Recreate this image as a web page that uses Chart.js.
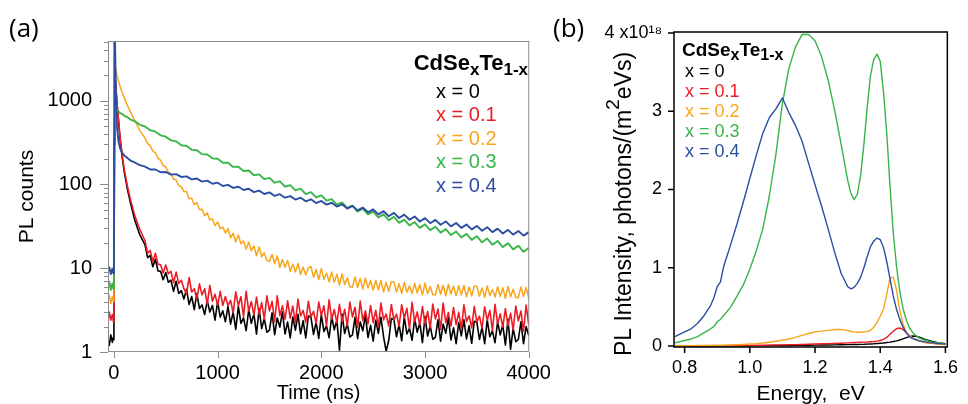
<!DOCTYPE html>
<html>
<head>
<meta charset="utf-8">
<script src="https://cdn.jsdelivr.net/npm/chart.js@4/dist/chart.umd.min.js"></script>
<style>
  body { margin: 0; background: #fff; width: 968px; height: 404px; position: relative; overflow: hidden; }
  canvas { position: absolute; top: 0; }
  #decay-chart { left: 0; }
  #spectra-chart { left: 548px; }
</style>
</head>
<body>
<canvas id="decay-chart" width="560" height="404"></canvas>
<canvas id="spectra-chart" width="420" height="404"></canvas>
<script>
'use strict';

const seriesLabels = ['x = 0', 'x = 0.1', 'x = 0.2', 'x = 0.3', 'x = 0.4'];
const seriesColors = ['#000000', '#ec1c24', '#f8a51b', '#3ab54a', '#2b4ea2'];
const formulaParts = [['CdSe', false], ['x', true], ['Te', false], ['1-x', true]];

// (a) PL decay, time in ns. The noisy samples (x = 0, 0.1, 0.2) use a finer time grid.
const noisyTimeNs = [
  -60, -45, -30, -15, -5, 0, 5, 10, 20, 30, 45, 60, 80, 100, 130, 160, 200, 250,
  300, 325, 350, 375, 400, 425, 450, 475, 500, 525, 550, 575, 600, 625, 650, 675,
  700, 725, 750, 775, 800, 825, 850, 875, 900, 925, 950, 975, 1000, 1025, 1050, 1075,
  1100, 1125, 1150, 1175, 1200, 1225, 1250, 1275, 1300, 1325, 1350, 1375, 1400, 1425, 1450, 1475,
  1500, 1525, 1550, 1575, 1600, 1625, 1650, 1675, 1700, 1725, 1750, 1775, 1800, 1825, 1850, 1875,
  1900, 1925, 1950, 1975, 2000, 2025, 2050, 2075, 2100, 2125, 2150, 2175, 2200, 2225, 2250, 2275,
  2300, 2325, 2350, 2375, 2400, 2425, 2450, 2475, 2500, 2525, 2550, 2575, 2600, 2625, 2650, 2675,
  2700, 2725, 2750, 2775, 2800, 2825, 2850, 2875, 2900, 2925, 2950, 2975, 3000, 3025, 3050, 3075,
  3100, 3125, 3150, 3175, 3200, 3225, 3250, 3275, 3300, 3325, 3350, 3375, 3400, 3425, 3450, 3475,
  3500, 3525, 3550, 3575, 3600, 3625, 3650, 3675, 3700, 3725, 3750, 3775, 3800, 3825, 3850, 3875,
  3900, 3925, 3950, 3975, 4000
];
const decayX00 = [
  1.4, 1.2, 1.6, 1.3, 1.5, 1.4, 300, 2000, 1350, 900, 560, 340, 210, 140, 88, 60, 38, 25,
  19.0, 13.4, 14.2, 10.4, 12.8, 9.3, 9.2, 7.3, 8.9, 6.8, 7.2, 5.3, 7.0, 5.0, 5.4, 4.3,
  5.6, 3.7, 4.6, 3.2, 5.0, 3.3, 3.65, 2.8, 4.1, 3.0, 3.6, 2.4, 4.0, 2.6, 3.1, 2.3,
  3.5, 2.15, 3.0, 1.86, 3.5, 2.2, 2.55, 1.8, 3.2, 2.2, 2.85, 1.63, 3.3, 1.9, 2.5, 1.72,
  1.82, 2.94, 1.61, 2.55, 1.98, 3.02, 1.64, 2.28, 1.47, 2.62, 1.82, 2.81, 1.65, 2.36, 1.47, 2.69,
  2.6, 1.62, 2.28, 1.45, 2.78, 1.75, 2.05, 1.48, 2.65, 1.84, 2.4, 1.05, 2.83, 1.66, 2.17, 1.51,
  1.6, 2.6, 1.44, 2.29, 1.79, 2.75, 1.49, 2.08, 1.35, 2.4, 1.67, 2.6, 1.53, 1.02, 1.37, 2.51,
  2.44, 1.52, 2.13, 1.36, 2.61, 1.64, 1.92, 1.38, 2.48, 1.72, 2.24, 1.29, 2.66, 1.55, 2.04, 1.42,
  1.5, 2.44, 1.35, 2.15, 1.67, 2.57, 1.39, 1.94, 1.26, 2.24, 1.56, 2.43, 1.43, 2.05, 1.27, 2.33,
  2.26, 1.41, 1.98, 1.26, 2.43, 1.52, 1.79, 1.29, 2.31, 1.6, 2.1, 1.21, 2.48, 1.08, 1.91, 1.33,
  1.41, 2.29, 1.26, 2.01, 1.58
];
const decayX01 = [
  2.2, 3.0, 2.4, 2.8, 2.3, 2.6, 350, 2100, 1400, 950, 590, 360, 225, 150, 96, 66, 43, 29,
  21.3, 15.1, 16.3, 11.9, 15.1, 11.2, 11.0, 8.8, 10.9, 8.6, 9.2, 6.7, 9.0, 6.6, 7.2, 5.7,
  4.95, 7.75, 5.2, 5.7, 4.35, 6.5, 4.8, 5.7, 3.7, 6.25, 4.05, 4.9, 3.6, 5.3, 3.6, 4.6,
  3.57, 4.14, 2.94, 5.23, 3.56, 4.6, 2.62, 5.32, 3.08, 4.0, 2.75, 4.53, 2.79, 3.89, 2.45, 4.68,
  3.1, 4.02, 2.3, 4.69, 2.72, 3.56, 2.46, 4.08, 2.53, 3.54, 2.24, 4.29, 2.69, 3.14, 2.25, 4.03,
  2.62, 3.06, 2.2, 3.95, 2.73, 3.56, 2.05, 4.2, 2.45, 3.22, 2.23, 3.7, 2.3, 3.23, 2.05, 3.94,
  2.62, 3.42, 1.97, 4.05, 2.37, 3.11, 2.16, 3.59, 2.24, 3.15, 2.0, 3.85, 2.42, 2.84, 2.04, 3.69,
  2.41, 2.83, 2.03, 3.67, 2.53, 3.32, 1.9, 3.92, 2.29, 3.01, 2.09, 3.48, 2.16, 3.05, 1.93, 3.73,
  2.48, 3.25, 1.86, 3.84, 2.24, 2.95, 2.04, 3.4, 2.12, 2.98, 1.9, 3.65, 2.3, 2.7, 1.94, 3.5,
  2.28, 2.68, 1.92, 3.47, 2.39, 3.14, 1.8, 3.71, 2.17, 2.85, 1.98, 3.3, 2.05, 2.89, 1.83, 3.54,
  2.36, 3.08, 1.77, 3.64, 2.13
];
const decayX02 = [
  4.0, 4.8, 3.8, 4.6, 4.0, 4.4, 600, 2600, 2300, 2000, 1700, 1480, 1250, 1080, 880, 730, 580, 440,
  358, 307, 291, 250, 240, 206, 194, 168, 162, 140, 135, 116, 113, 97, 94, 82,
  82.7, 67.7, 68.6, 57.2, 61, 50.4, 50.5, 42.3, 46, 37.6, 38.9, 32.2, 35.6, 29.7, 31, 26.3,
  29.7, 23.1, 26.2, 20.6, 25.0, 19.6, 21.1, 16.9, 20.6, 16.2, 18.5, 14.1, 17.9, 13.7, 15.3, 12.4,
  12.0, 14.7, 11.4, 14.1, 10.2, 12.7, 10.3, 12.4, 9.2, 11.2, 9.0, 11.4, 8.4, 10.3, 8.3, 10.1,
  10.5, 7.8, 9.7, 7.3, 9.9, 7.4, 8.7, 6.9, 9.0, 6.8, 8.5, 6.3, 8.6, 6.4, 7.7, 6.0,
  5.94, 7.85, 5.93, 7.54, 5.61, 7.63, 5.82, 7.16, 5.45, 7.16, 5.54, 7.16, 5.21, 6.8, 5.31, 6.9,
  6.85, 5.19, 6.53, 5.01, 6.82, 5.19, 6.16, 4.97, 6.61, 5.05, 6.4, 4.78, 6.64, 4.97, 6.07, 4.82,
  4.82, 6.42, 4.89, 6.26, 4.69, 6.44, 4.93, 6.12, 4.68, 6.18, 4.81, 6.24, 4.56, 5.99, 4.7, 6.13,
  6.06, 4.62, 5.83, 4.5, 6.12, 4.69, 5.58, 4.52, 6.03, 4.6, 5.85, 4.38, 6.08, 4.58, 5.62, 4.47,
  4.47, 5.98, 4.58, 5.88, 4.42
];

const decayTimeNs = [
  -60, -45, -30, -15, -5, 0, 5, 10, 20, 30, 45, 60, 80, 100, 130, 160, 200, 250,
  300, 350, 400, 450, 500, 550, 600, 650, 700, 750,
  800, 850, 900, 950, 1000, 1050, 1100, 1150, 1200, 1250,
  1300, 1350, 1400, 1450, 1500, 1550, 1600, 1650, 1700, 1750,
  1800, 1850, 1900, 1950, 2000, 2050, 2100, 2150, 2200, 2250,
  2300, 2350, 2400, 2450, 2500, 2550, 2600, 2650, 2700, 2750,
  2800, 2850, 2900, 2950, 3000, 3050, 3100, 3150, 3200, 3250,
  3300, 3350, 3400, 3450, 3500, 3550, 3600, 3650, 3700, 3750,
  3800, 3850, 3900, 3950, 4000
];
const decayX03 = [
  6.0, 6.9, 5.5, 6.6, 5.7, 6.4, 420, 950, 830, 775, 745, 712, 695, 660, 636, 596, 570, 515,
  492, 444, 427, 386, 372, 336, 327, 294, 289, 259,
  256, 230, 228, 205, 203, 182, 182, 162, 163, 145,
  147, 129, 132, 116, 120, 105, 109, 94, 98, 85,
  89, 76.5, 81, 70, 74, 64, 67, 57.5, 61, 52.5,
  56, 47.5, 51.5, 44, 47.5, 40.5, 44, 37.5, 41, 34.8,
  38, 32.4, 35.6, 30.3, 33.4, 28.5, 31.3, 26.6, 29.3, 24.9,
  27.4, 23.3, 25.7, 21.8, 24.1, 20.4, 22.6, 19.1, 21.2, 17.9,
  19.9, 16.8, 18.6, 15.7, 17.4
];
const decayX04 = [
  9.0, 10.3, 8.5, 9.9, 8.7, 9.6, 9000, 6000, 1100, 480, 320, 268, 238, 222, 207, 193, 183, 170,
  163, 151, 151, 140, 141, 131, 133, 123, 125, 115,
  118, 108, 111, 102, 105, 96, 99, 91, 94, 86,
  89, 81, 84.5, 77, 80.5, 73, 76.5, 69.5, 72.5, 66,
  69.5, 63, 66.5, 60, 63.5, 57.5, 60.5, 54.5, 58, 51.5,
  55.5, 49, 53, 46.5, 50.5, 44, 48, 41.8, 45.8, 39.8,
  43.6, 37.9, 41.5, 36.1, 39.6, 34.5, 37.8, 33, 36.2, 31.6,
  34.7, 30.3, 33.3, 29.1, 32, 28, 30.8, 27, 29.7, 26,
  28.7, 25.2, 27.8, 24.5, 27
];
const decayXTicks = [0, 1000, 2000, 3000, 4000];
const decayYTicks = [1, 10, 100, 1000];
const decayMinorTicks = [2, 3, 4, 5, 6, 7, 8, 9, 20, 30, 40, 50, 60, 70, 80, 90,
  200, 300, 400, 500, 600, 700, 800, 900, 2000, 3000, 4000, 5000];

// (b) PL spectra, intensity in 1e18 photons/(m2 eV s)
const energyEv = [
  0.77, 0.80, 0.82, 0.84, 0.86, 0.88, 0.89, 0.90, 0.91, 0.92, 0.94, 0.96, 0.98, 1.00,
  1.02, 1.04, 1.06, 1.08, 1.10, 1.12, 1.14, 1.16, 1.18, 1.20, 1.22, 1.24, 1.26, 1.28,
  1.30, 1.31, 1.32, 1.33, 1.34, 1.35, 1.36, 1.37, 1.38, 1.39, 1.40, 1.41, 1.42, 1.43,
  1.44, 1.45, 1.46, 1.47, 1.48, 1.49, 1.50, 1.51, 1.52, 1.54, 1.56, 1.58, 1.60
];
const spectrumX00 = [
  0.002, 0.002, 0.002, 0.002, 0.003, 0.003, 0.003, 0.003, 0.003, 0.003, 0.003, 0.004, 0.004, 0.004,
  0.005, 0.005, 0.006, 0.006, 0.007, 0.007, 0.008, 0.009, 0.010, 0.011, 0.012, 0.013, 0.014, 0.016,
  0.017, 0.018, 0.019, 0.020, 0.021, 0.022, 0.024, 0.026, 0.028, 0.031, 0.035, 0.039, 0.044, 0.050,
  0.057, 0.066, 0.077, 0.091, 0.106, 0.120, 0.128, 0.125, 0.112, 0.082, 0.057, 0.040, 0.030
];
const spectrumX01 = [
  0.003, 0.003, 0.003, 0.004, 0.004, 0.004, 0.005, 0.005, 0.005, 0.005, 0.006, 0.006, 0.007, 0.008,
  0.009, 0.010, 0.011, 0.012, 0.014, 0.016, 0.018, 0.020, 0.022, 0.025, 0.028, 0.030, 0.033, 0.036,
  0.040, 0.042, 0.044, 0.046, 0.048, 0.050, 0.052, 0.055, 0.058, 0.062, 0.070, 0.085, 0.110, 0.150,
  0.190, 0.220, 0.230, 0.210, 0.170, 0.130, 0.100, 0.080, 0.065, 0.045, 0.035, 0.025, 0.020
];
const spectrumX02 = [
  0.004, 0.005, 0.005, 0.006, 0.007, 0.008, 0.009, 0.010, 0.010, 0.011, 0.013, 0.016, 0.020, 0.025,
  0.030, 0.038, 0.048, 0.060, 0.075, 0.090, 0.110, 0.135, 0.160, 0.180, 0.190, 0.200, 0.210, 0.210,
  0.200, 0.185, 0.180, 0.175, 0.175, 0.180, 0.185, 0.200, 0.240, 0.300, 0.380, 0.470, 0.660, 0.870,
  0.880, 0.720, 0.450, 0.280, 0.180, 0.130, 0.100, 0.080, 0.065, 0.045, 0.035, 0.025, 0.020
];
const spectrumX03 = [
  0.04, 0.07, 0.09, 0.12, 0.17, 0.22, 0.25, 0.31, 0.34, 0.39, 0.49, 0.63, 0.78, 0.98,
  1.22, 1.50, 1.92, 2.45, 3.10, 3.55, 3.82, 3.98, 3.98, 3.90, 3.70, 3.40, 3.02, 2.58,
  2.12, 1.95, 1.87, 1.94, 2.18, 2.58, 3.05, 3.45, 3.66, 3.73, 3.64, 3.25, 2.72, 2.05,
  1.45, 1.02, 0.70, 0.48, 0.33, 0.23, 0.17, 0.13, 0.10, 0.07, 0.05, 0.04, 0.03
];
const spectrumX04 = [
  0.12, 0.18, 0.22, 0.29, 0.39, 0.52, 0.62, 0.76, 0.82, 1.02, 1.28, 1.55, 1.84, 2.14,
  2.44, 2.72, 2.92, 3.03, 3.17, 2.98, 2.82, 2.62, 2.34, 2.06, 1.79, 1.50, 1.20, 0.93,
  0.76, 0.73, 0.75, 0.80, 0.88, 1.00, 1.14, 1.27, 1.34, 1.38, 1.36, 1.26, 1.08, 0.86,
  0.64, 0.47, 0.34, 0.24, 0.17, 0.12, 0.095, 0.08, 0.065, 0.05, 0.04, 0.03, 0.025
];
const energyTicks = [0.8, 1.0, 1.2, 1.4, 1.6];
const intensityTicks = [0, 1, 2, 3, 4];

Chart.defaults.font.family = '"Liberation Sans", Arial, sans-serif';
Chart.defaults.color = '#000';

function makeDataset(index, xValues, values, lineWidth) {
  return {
    label: seriesLabels[index],
    data: values.map((v, j) => ({ x: xValues[j], y: v })),
    borderColor: seriesColors[index],
    borderWidth: lineWidth,
    borderJoinStyle: 'round',
    pointRadius: 0,
    fill: false,
    order: seriesLabels.length - index,
  };
}

function drawFormula(ctx, x, y, mainSize, subSize, drop) {
  ctx.textAlign = 'left';
  ctx.textBaseline = 'alphabetic';
  ctx.fillStyle = '#000';
  formulaParts.forEach(([text, isSub]) => {
    ctx.font = `bold ${isSub ? subSize : mainSize}px "Liberation Sans", Arial, sans-serif`;
    ctx.fillText(text, x, isSub ? y + drop : y);
    x += ctx.measureText(text).width;
  });
}

function formulaWidth(ctx, mainSize, subSize) {
  let width = 0;
  formulaParts.forEach(([text, isSub]) => {
    ctx.font = `bold ${isSub ? subSize : mainSize}px "Liberation Sans", Arial, sans-serif`;
    width += ctx.measureText(text).width;
  });
  return width;
}

function drawLegend(ctx, x, y, size, step) {
  ctx.font = `${size}px "Liberation Sans", Arial, sans-serif`;
  ctx.textAlign = 'left';
  ctx.textBaseline = 'middle';
  seriesLabels.forEach((label, i) => {
    ctx.fillStyle = seriesColors[i];
    ctx.fillText(label, x, y + i * step);
  });
}

function drawPanelLabel(ctx, text, x, y) {
  ctx.font = '26px "Open Sans", sans-serif';
  ctx.fillStyle = '#000';
  ctx.textAlign = 'left';
  ctx.textBaseline = 'alphabetic';
  ctx.fillText(text, x, y);
}

const decayDecor = {
  id: 'decayDecor',
  afterDraw(chart) {
    const { ctx, chartArea: area, scales: { x, y } } = chart;
    ctx.save();
    ctx.strokeStyle = '#8c8c8c';
    ctx.lineWidth = 1;
    ctx.strokeRect(area.left + 0.5, area.top + 0.5, area.right - area.left - 1, area.bottom - area.top - 1);
    ctx.beginPath();
    decayMinorTicks.forEach((v) => {
      const py = Math.round(y.getPixelForValue(v)) + 0.5;
      ctx.moveTo(area.left, py);
      ctx.lineTo(area.left - 4, py);
    });
    decayYTicks.forEach((v) => {
      const py = Math.round(y.getPixelForValue(v)) + 0.5;
      ctx.moveTo(area.left, py);
      ctx.lineTo(area.left - 8, py);
    });
    decayXTicks.forEach((v) => {
      const px = Math.round(x.getPixelForValue(v)) + 0.5;
      ctx.moveTo(px, area.bottom);
      ctx.lineTo(px, area.bottom + 6);
    });
    ctx.stroke();

    drawFormula(ctx, 528 - formulaWidth(ctx, 22, 17), 70, 22, 17, 5);
    drawLegend(ctx, 436, 92, 20, 23.5);
    drawPanelLabel(ctx, '(a)', 9, 37);
    ctx.restore();
  }
};

const spectraDecor = {
  id: 'spectraDecor',
  afterDraw(chart) {
    const { ctx, chartArea: area, scales: { x, y } } = chart;
    ctx.save();
    ctx.strokeStyle = '#000';
    ctx.lineWidth = 1.5;
    ctx.strokeRect(area.left, area.top, area.right - area.left, area.bottom - area.top);
    ctx.beginPath();
    intensityTicks.forEach((v) => {
      const py = y.getPixelForValue(v);
      ctx.moveTo(area.left, py);
      ctx.lineTo(area.left - 6, py);
    });
    energyTicks.forEach((v) => {
      const px = x.getPixelForValue(v);
      ctx.moveTo(px, area.bottom);
      ctx.lineTo(px, area.bottom + 6);
    });
    ctx.stroke();

    drawFormula(ctx, 134, 56, 19, 16, 4);
    drawLegend(ctx, 137, 72, 18, 20);
    drawPanelLabel(ctx, '(b)', 5, 37);

    // rotated y title with a raised 2
    const head = 'PL Intensity, photons/(m';
    const sup = '2';
    const tail = 'eVs)';
    const mainFont = '23px "Liberation Sans", Arial, sans-serif';
    const supFont = '19px "Liberation Sans", Arial, sans-serif';
    ctx.font = mainFont;
    const wHead = ctx.measureText(head).width;
    const wTail = ctx.measureText(tail).width;
    ctx.font = supFont;
    const wSup = ctx.measureText(sup).width;
    ctx.translate(83, 204);
    ctx.rotate(-Math.PI / 2);
    ctx.fillStyle = '#000';
    ctx.textAlign = 'left';
    ctx.textBaseline = 'alphabetic';
    let pos = -(wHead + wSup + wTail) / 2;
    ctx.font = mainFont;
    ctx.fillText(head, pos, 0);
    pos += wHead;
    ctx.font = supFont;
    ctx.fillText(sup, pos, -12);
    pos += wSup;
    ctx.font = mainFont;
    ctx.fillText(tail, pos, 0);
    ctx.restore();
  }
};

const decayConfig = {
  type: 'line',
  data: {
    datasets: [
      makeDataset(0, noisyTimeNs, decayX00, 1.6),
      makeDataset(1, noisyTimeNs, decayX01, 1.6),
      makeDataset(2, noisyTimeNs, decayX02, 1.5),
      makeDataset(3, decayTimeNs, decayX03, 1.9),
      makeDataset(4, decayTimeNs, decayX04, 1.9),
    ],
  },
  options: {
    responsive: false,
    animation: false,
    layout: { padding: { left: 0, top: 41, right: 23, bottom: 0 } },
    plugins: { legend: { display: false }, tooltip: { enabled: false } },
    scales: {
      x: {
        type: 'linear',
        min: -57,
        max: 4005,
        afterBuildTicks: (scale) => { scale.ticks = decayXTicks.map((v) => ({ value: v })); },
        afterFit: (scale) => { scale.height = 52; },
        grid: { display: false, drawTicks: false },
        border: { display: false },
        ticks: { font: { size: 20 }, padding: 9, maxRotation: 0, callback: (v) => String(v) },
        title: { display: true, text: 'Time (ns)', font: { size: 20, lineHeight: 1.1 }, padding: { top: 0, bottom: 0 } },
      },
      y: {
        type: 'logarithmic',
        min: 1,
        max: 5160,
        afterBuildTicks: (scale) => { scale.ticks = decayYTicks.map((v) => ({ value: v })); },
        afterFit: (scale) => { scale.width = 108; },
        grid: { display: false, drawTicks: false },
        border: { display: false },
        ticks: { font: { size: 20 }, padding: 16, callback: (v) => String(v) },
        title: { display: true, text: 'PL counts', font: { size: 21 }, padding: { top: 15, bottom: 0 } },
      },
    },
  },
  plugins: [decayDecor],
};

const spectraConfig = {
  type: 'line',
  data: {
    datasets: [spectrumX00, spectrumX01, spectrumX02, spectrumX03, spectrumX04]
      .map((values, i) => makeDataset(i, energyEv, values, 1.4)),
  },
  options: {
    responsive: false,
    animation: false,
    layout: { padding: { left: 0, top: 32, right: 11, bottom: 0 } },
    plugins: { legend: { display: false }, tooltip: { enabled: false } },
    scales: {
      x: {
        type: 'linear',
        min: 0.7674,
        max: 1.6059,
        afterBuildTicks: (scale) => { scale.ticks = energyTicks.map((v) => ({ value: v })); },
        afterFit: (scale) => { scale.height = 57; },
        grid: { display: false, drawTicks: false },
        border: { display: false },
        ticks: { font: { size: 18 }, padding: 10, maxRotation: 0, callback: (v) => v.toFixed(1) },
        title: { display: true, text: 'Energy,  eV', font: { size: 21, lineHeight: 0.92 }, padding: { top: 0, bottom: 0 } },
      },
      y: {
        type: 'linear',
        min: -0.0128,
        max: 4.0128,
        afterBuildTicks: (scale) => { scale.ticks = intensityTicks.map((v) => ({ value: v })); },
        afterFit: (scale) => { scale.width = 126; },
        grid: { display: false, drawTicks: false },
        border: { display: false },
        ticks: { font: { size: 18 }, padding: 12, callback: (v) => (v === 4 ? '4 x10\u00b9\u2078' : String(v)) },
      },
    },
  },
  plugins: [spectraDecor],
};

const decayChart = new Chart(document.querySelector('#decay-chart').getContext('2d'), decayConfig);
const spectraChart = new Chart(document.querySelector('#spectra-chart').getContext('2d'), spectraConfig);
</script>
</body>
</html>
